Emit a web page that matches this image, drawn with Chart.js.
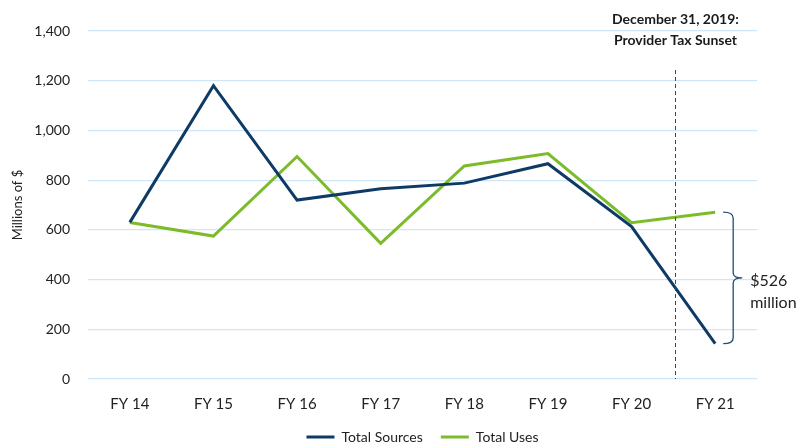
<!DOCTYPE html>
<html>
<head>
<meta charset="utf-8">
<script src="https://cdn.jsdelivr.net/npm/chart.js@4"></script>
<style>
  html, body { margin: 0; padding: 0; background: #ffffff; }
  #wrap { width: 803px; height: 446px; position: relative; }
</style>
</head>
<body>
<div id="wrap"><canvas id="c" width="803" height="446"></canvas></div>
<script>
const categories = ["FY 14", "FY 15", "FY 16", "FY 17", "FY 18", "FY 19", "FY 20", "FY 21"];
const totalSources = [630, 1180, 720, 765, 788, 866, 613, 142];
const totalUses = [630, 575, 895, 546, 857, 907, 629, 671];
const yTicks = [0, 200, 400, 600, 800, 1000, 1200, 1400];
const seriesNames = ["Total Sources", "Total Uses"];
const sunsetLabel = ["December 31, 2019:", "Provider Tax Sunset"];
const gapLabel = ["$526", "million"];

const NAVY = "#0d3b66";
const GREEN = "#7cbb2a";
const FONT = "Lato, 'Open Sans', sans-serif";

const annotations = {
  id: "annotations",
  afterDatasetsDraw(chart) {
    const ctx = chart.ctx;
    const xs = chart.scales.x, ys = chart.scales.y;
    const area = chart.chartArea;
    ctx.save();
    // dashed sunset line
    const lx = Math.round(xs.getPixelForValue(6.52)) + 0.5;
    ctx.strokeStyle = "#1f4e79";
    ctx.lineWidth = 1;
    ctx.setLineDash([4, 3]);
    ctx.beginPath();
    ctx.moveTo(lx, 70);
    ctx.lineTo(lx, area.bottom);
    ctx.stroke();
    ctx.setLineDash([]);
    // label
    ctx.fillStyle = "#1a1a1a";
    ctx.font = "bold 14px " + FONT;
    ctx.textAlign = "center";
    ctx.textBaseline = "middle";
    ctx.fillText(sunsetLabel[0], lx, 19);
    ctx.fillText(sunsetLabel[1], lx, 40);
    // brace
    const last = categories.length - 1;
    const px = xs.getPixelForValue(last);
    const top = ys.getPixelForValue(totalUses[last]);
    const bot = ys.getPixelForValue(totalSources[last]);
    const mid = (top + bot) / 2;
    const x0 = px + 8, x1 = px + 18, x2 = px + 27;
    ctx.strokeStyle = "#1f4e79";
    ctx.lineWidth = 1.3;
    ctx.beginPath();
    ctx.moveTo(x0, top);
    ctx.quadraticCurveTo(x1, top, x1, top + 6);
    ctx.lineTo(x1, mid - 5);
    ctx.quadraticCurveTo(x1, mid, x2, mid);
    ctx.quadraticCurveTo(x1, mid, x1, mid + 5);
    ctx.lineTo(x1, bot - 6);
    ctx.quadraticCurveTo(x1, bot, x0, bot);
    ctx.stroke();
    ctx.fillStyle = "#222222";
    ctx.font = "16px " + FONT;
    ctx.textAlign = "left";
    ctx.fillText(gapLabel[0], x2 + 8, mid + 3);
    ctx.fillText(gapLabel[1], x2 + 8, mid + 25);
    ctx.restore();
  }
};

new Chart(document.getElementById("c"), {
  type: "line",
  data: {
    labels: categories,
    datasets: [
      { label: seriesNames[0], data: totalSources, borderColor: NAVY, backgroundColor: NAVY, borderWidth: 3, pointRadius: 0, tension: 0 },
      { label: seriesNames[1], data: totalUses, borderColor: GREEN, backgroundColor: GREEN, borderWidth: 3, pointRadius: 0, tension: 0 }
    ]
  },
  options: {
    responsive: false,
    animation: false,
    layout: { padding: { top: 31, right: 46, left: 0, bottom: -8 } },
    plugins: {
      tooltip: { enabled: false },
      legend: {
        position: "bottom",
        fullSize: false,
        labels: {
          font: { family: FONT, size: 14, lineHeight: 1 },
          color: "#222",
          boxWidth: 28,
          boxHeight: 3,
          padding: 18,
          generateLabels: (chart) => Chart.defaults.plugins.legend.labels.generateLabels(chart).map(l => ({ ...l, lineWidth: 0, fillStyle: l.strokeStyle }))
        }
      }
    },
    scales: {
      x: {
        offset: true,
        grid: { display: false, drawTicks: false },
        border: { display: false },
        ticks: { font: { family: FONT, size: 15 }, color: "#222", padding: 16, maxRotation: 0 },
        afterFit: (s) => { s.height = 33; }
      },
      y: {
        min: 0, max: 1400,
        afterBuildTicks: (s) => { s.ticks = yTicks.map(v => ({ value: v })); },
        grid: { color: "#cfe6f8", lineWidth: 1.2, drawTicks: false },
        border: { display: false },
        ticks: {
          font: { family: FONT, size: 14 }, color: "#222", padding: 18,
          callback: (v) => v.toLocaleString("en-US")
        },
        title: { display: true, text: "Millions of $", font: { family: FONT, size: 13 }, color: "#222", padding: { top: 10, bottom: 0 } },
        afterFit: (s) => { s.width = 88; }
      }
    }
  },
  plugins: [annotations]
});
</script>
</body>
</html>
